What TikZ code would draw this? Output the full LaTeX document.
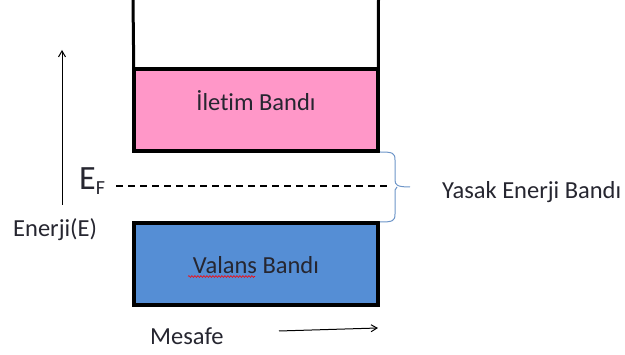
\documentclass[tikz,border=0pt]{standalone}
\usepackage{fontspec}
\setmainfont[Ligatures=NoCommon]{Carlito}
\usetikzlibrary{arrows.meta,decorations.pathmorphing}
\definecolor{pinkband}{HTML}{FF97C8}
\definecolor{blueband}{HTML}{558ED5}
\definecolor{bracecol}{HTML}{6D95C8}
\definecolor{txt}{HTML}{262630}
\tikzset{
  band/.style={draw=black, line width=3.5pt, minimum width=244pt, minimum height=82pt, inner sep=0pt},
  wall/.style={line width=3pt},
  lbl/.style={text=txt, font=\fontsize{24.5}{28}\selectfont, inner sep=0pt},
  axis/.style={line width=1pt, -{Straight Barb[length=6pt,width=7pt]}},
}
\begin{document}
\begin{tikzpicture}[x=1pt,y=-1pt]
\useasboundingbox (0,0) rectangle (625,355);
% conduction and valence bands
\node[band, fill=pinkband] (cb) at (256,110) {};
\node[band, fill=blueband] (vb) at (256,264) {};
\node[lbl] (cbt) at (256,101) {İletim Bandı};
\node[lbl] (vbt) at (256,265) {Valans Bandı};
\draw[red, line width=0.6pt, decorate, decoration={snake, amplitude=0.9pt, segment length=3pt, pre length=0pt, post length=0pt}]
  (188,276.5) -- (255,276.5);
% walls of the well
\coordinate (wl) at (133,0);
\coordinate (wr) at (378.5,0);
\draw[wall] (cb.north west) ++(1.5,0) -- (wl);
\draw[wall] (cb.north east) ++(-1.5,0) -- (wr);
% energy axis
\coordinate (ea) at (62,205);
\coordinate (eb) at (62,50);
\draw[axis] (ea) -- (eb);
\node[lbl, anchor=west] (en) at (13,230) {Enerji(E)};
% Fermi level
\node[lbl, anchor=base west] (ef) at (79,190) {\fontsize{34}{36}\selectfont E\raisebox{-5pt}{\fontsize{20}{24}\selectfont F}};
\coordinate (fa) at (116,186);
\coordinate (fb) at (388,186);
\draw[line width=1.3pt, dash pattern=on 7pt off 5pt] (fa) -- (fb);
% forbidden gap brace
\draw[bracecol, line width=1pt]
  (380,152) .. controls (393,152) and (395,153) .. (395,160) -- (395,180)
  .. controls (395,185) and (397,187) .. (410,187)
  (397,187) .. controls (395,189) and (395,190) .. (395,194) -- (395,214)
  .. controls (395,221) and (393,222) .. (380,222);
\node[lbl, anchor=west] (gap) at (442,192) {Yasak Enerji Bandı};
% distance axis
\node[lbl, anchor=west] (ms) at (150,336) {Mesafe};
\coordinate (ma) at (279,331);
\coordinate (mb) at (378,328);
\draw[axis] (ma) -- (mb);
\end{tikzpicture}
\end{document}
